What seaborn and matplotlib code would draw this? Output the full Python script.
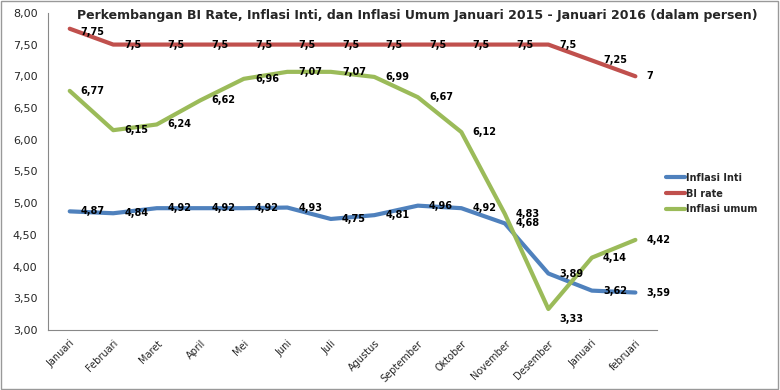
import pandas as pd
import seaborn as sns
import matplotlib.pyplot as plt
from matplotlib.ticker import FuncFormatter, FixedLocator

bulan = ["Januari", "Februari", "Maret", "April", "Mei", "Juni", "Juli", "Agustus",
         "September", "Oktober", "November", "Desember", "Januari", "februari"]
inflasi_inti = [4.87, 4.84, 4.92, 4.92, 4.92, 4.93, 4.75, 4.81, 4.96, 4.92, 4.68, 3.89, 3.62, 3.59]
bi_rate = [7.75, 7.5, 7.5, 7.5, 7.5, 7.5, 7.5, 7.5, 7.5, 7.5, 7.5, 7.5, 7.25, 7.0]
inflasi_umum = [6.77, 6.15, 6.24, 6.62, 6.96, 7.07, 7.07, 6.99, 6.67, 6.12, 4.83, 3.33, 4.14, 4.42]

seri = {"Inflasi Inti": inflasi_inti, "BI rate": bi_rate, "Inflasi umum": inflasi_umum}
warna = {"Inflasi Inti": "#4F81BD", "BI rate": "#C0504D", "Inflasi umum": "#9BBB59"}

rows = []
for nama, nilai in seri.items():
    for i, v in enumerate(nilai):
        rows.append({"x": i, "nilai": v, "seri": nama})
df = pd.DataFrame(rows)

sns.set_style("white")
plt.rcParams["font.family"] = ["DejaVu Sans"]

fig = plt.figure(figsize=(7.8, 3.9), dpi=100)
ax = fig.add_axes([0.0615, 0.154, 0.781, 0.813])

sns.lineplot(data=df, x="x", y="nilai", hue="seri", palette=warna, linewidth=3,
             ax=ax, legend=True)

for nama, nilai in seri.items():
    for i, v in enumerate(nilai):
        lbl = f"{v:g}".replace(".", ",")
        if nama != "BI rate":
            lbl = f"{v:.2f}".replace(".", ",")
        dx, dy = 8, 0
        if nama == "Inflasi umum" and i == 11:
            dy = -7
        if nama == "BI rate" and i == 0:
            dy = -2
        ax.annotate(lbl, (i, v), xytext=(dx, dy), textcoords="offset points",
                    ha="left", va="center", fontsize=7, fontweight="bold", color="black")

ax.set_xlim(-0.5, len(bulan) - 0.5)
ax.set_ylim(3.0, 8.0)
ax.set_yticks([3.0 + 0.5 * k for k in range(11)])
ax.yaxis.set_major_formatter(FuncFormatter(lambda v, p: f"{v:.2f}".replace(".", ",")))
ax.set_xticks(range(len(bulan)))
ax.set_xticklabels(bulan, rotation=45, ha="right", rotation_mode="anchor", fontsize=7)
ax.xaxis.set_minor_locator(FixedLocator([k - 0.5 for k in range(len(bulan) + 1)]))
ax.tick_params(axis="x", which="major", length=0, pad=6)
ax.tick_params(axis="x", which="minor", length=4, color="#888888")
ax.tick_params(axis="y", length=4, color="#888888", labelsize=8)
ax.set_xlabel("")
ax.set_ylabel("")

for s in ["top", "right"]:
    ax.spines[s].set_visible(False)
for s in ["left", "bottom"]:
    ax.spines[s].set_color("#888888")

fig.text(417 / 780, 1 - 9 / 390,
         "Perkembangan BI Rate, Inflasi Inti, dan Inflasi Umum Januari 2015 - Januari 2016 (dalam persen)",
         ha="center", va="top", fontsize=9, fontweight="bold")

leg = ax.legend(loc="center left", bbox_to_anchor=(1.0, 0.43), frameon=False,
                handlelength=2.0, handletextpad=0.1, labelspacing=0.6, prop={"size": 7, "weight": "bold"})
for h in leg.get_lines():
    h.set_linewidth(3)

fig.patches.append(plt.Rectangle((0.001, 0.002), 0.997, 0.995, transform=fig.transFigure,
                                 fill=False, edgecolor="#999999", linewidth=1))

fig.savefig("out.png", dpi=100)
